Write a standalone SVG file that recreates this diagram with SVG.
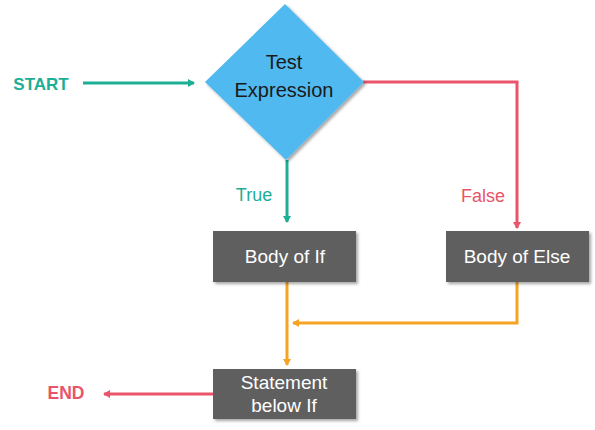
<svg xmlns="http://www.w3.org/2000/svg" width="595" height="430" viewBox="0 0 595 430">
<style>
.lbl{font-family:"Liberation Sans",Arial,sans-serif}
.box{fill:#5f5f5f}
.bt{fill:#ffffff;font-size:19px;text-anchor:middle}
.teal{stroke:#1dae96;stroke-width:3;fill:none}
.red{stroke:#e9546a;stroke-width:3;fill:none}
.org{stroke:#f4a323;stroke-width:3;fill:none}
</style>
<defs>
<filter id="sh" x="-10%" y="-10%" width="130%" height="140%">
<feDropShadow dx="2" dy="2" stdDeviation="1.5" flood-color="#000" flood-opacity="0.35"/>
</filter>
<marker id="at" markerWidth="8" markerHeight="8" refX="6" refY="4" orient="auto" markerUnits="userSpaceOnUse"><path d="M0,0 L7,4 L0,8 Z" fill="#1dae96"/></marker>
<marker id="ar" markerWidth="8" markerHeight="8" refX="6" refY="4" orient="auto" markerUnits="userSpaceOnUse"><path d="M0,0 L7,4 L0,8 Z" fill="#e9546a"/></marker>
<marker id="ao" markerWidth="8" markerHeight="8" refX="6" refY="4" orient="auto" markerUnits="userSpaceOnUse"><path d="M0,0 L7,4 L0,8 Z" fill="#f4a323"/></marker>
</defs>
<g id="connectors">
<path class="teal" d="M83,83 L194,83" marker-end="url(#at)"/>
<path class="teal" d="M287,160 L287,222" marker-end="url(#at)"/>
<path class="red" d="M363,82 L517,82 L517,228" marker-end="url(#ar)"/>
<path class="org" d="M287,282 L287,365" marker-end="url(#ao)"/>
<path class="org" d="M517,282 L517,323 L293,323" marker-end="url(#ao)"/>
<path class="red" d="M213,394 L104,394" marker-end="url(#ar)"/>
<text class="lbl" x="254" y="201" font-size="18" fill="#1dae96" text-anchor="middle">True</text>
<text class="lbl" x="483" y="202" font-size="18" fill="#e9546a" text-anchor="middle">False</text>
</g>
<g id="start"><text class="lbl" x="41" y="90" font-size="17" font-weight="bold" fill="#1dae96" text-anchor="middle">START</text></g>
<g id="end"><text class="lbl" x="66" y="399" font-size="17.5" font-weight="bold" fill="#e9546a" text-anchor="middle">END</text></g>
<g id="test">
<polygon points="285,4 364,82 286,160 205,82" fill="#50b9f0" filter="url(#sh)"/>
<text class="lbl" x="284" y="69" font-size="20" fill="#1a1a1a" text-anchor="middle">Test</text>
<text class="lbl" x="284" y="97" font-size="20" fill="#1a1a1a" text-anchor="middle">Expression</text>
</g>
<g id="bodyIf">
<rect class="box" x="213" y="231" width="143" height="51" filter="url(#sh)"/>
<text class="lbl bt" x="285" y="263">Body of If</text>
</g>
<g id="bodyElse">
<rect class="box" x="446" y="231" width="143" height="51" filter="url(#sh)"/>
<text class="lbl bt" x="517" y="263">Body of Else</text>
</g>
<g id="stmt">
<rect class="box" x="213" y="369" width="143" height="50" filter="url(#sh)"/>
<text class="lbl bt" x="284" y="389" font-size="18">Statement</text>
<text class="lbl bt" x="284" y="412" font-size="18">below If</text>
</g>
</svg>
